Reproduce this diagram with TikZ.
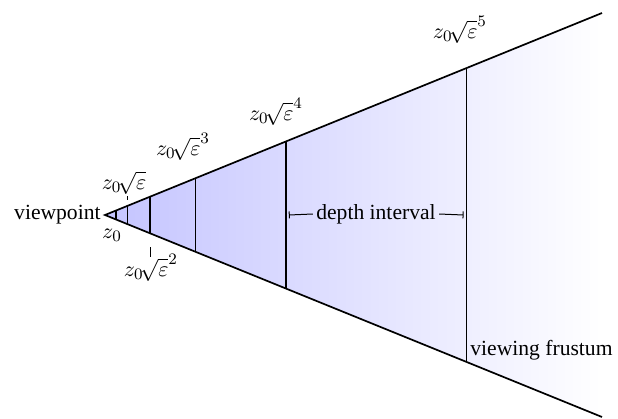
\documentclass[tikz,border=0pt]{standalone}
\usepackage{fontspec}
\setmainfont{Liberation Serif}
\usepackage{amsmath}
\usetikzlibrary{arrows.meta, calc}
\definecolor{frustumblue}{RGB}{196,196,255}

\begin{document}
\begin{tikzpicture}[x=0.5pt, y=0.5pt, font=\fontsize{10.8pt}{13pt}\selectfont,
    edge/.style={line width=0.85pt},
    tick/.style={line width=0.5pt},
    lbl/.style={inner sep=0pt}]
  \useasboundingbox (-105,-204) rectangle (513,215);

  % frustum corners
  \coordinate (apex) at (0,0);
  \coordinate (ftop) at (497,202);
  \coordinate (fbot) at (497,-202);

  % fading fill
  \shade[left color=frustumblue, right color=white] (apex) -- (ftop) -- (fbot) -- cycle;

  % depth slices, doubling each time
  \foreach \k in {0,...,5} {
    \pgfmathsetmacro{\d}{11.3*2^\k}
    \pgfmathsetmacro{\h}{0.4064*\d}
    \coordinate (t\k) at (\d,\h);
    \coordinate (b\k) at (\d,-\h);
    \coordinate (m\k) at (\d,0);
    \draw[edge] (t\k) -- (b\k);
  }
  \draw[edge, line join=miter] (ftop) -- (apex) -- (fbot);

  \node[anchor=east, inner sep=2pt] (viewpoint) at (apex) {viewpoint};

  % depth labels
  \node[lbl] (lz0) at (7,-20) {$z_0$};
  \node[lbl] (lz1) at (19,32) {$z_0\!\sqrt{\varepsilon}$};
  \node[lbl] (lz2) at (46,-53) {$z_0\!\sqrt{\varepsilon}^2$};
  \node[lbl] (lz3) at (78,68) {$z_0\!\sqrt{\varepsilon}^3$};
  \node[lbl] (lz4) at (171,103) {$z_0\!\sqrt{\varepsilon}^4$};
  \node[lbl] (lz5) at (355,185) {$z_0\!\sqrt{\varepsilon}^5$};
  \draw[tick] ($(t1)+(0,6)$) -- ++(0,4);
  \draw[tick] ($(b2)+(0,-14)$) -- ++(0,-10);

  % interval between two slices
  \node[inner sep=1.5pt] (depth) at (271,1) {depth interval};
  \draw[tick, {Bar[width=3.5pt]}-] ($(m4)+(3,0)$) -- (depth.west);
  \draw[tick, -{Bar[width=3.5pt]}] (depth.east) -- ($(m5)+(-3,0)$);

  \node[anchor=west, inner sep=1pt] (frustum) at (363,-135) {viewing frustum};
\end{tikzpicture}
\end{document}
